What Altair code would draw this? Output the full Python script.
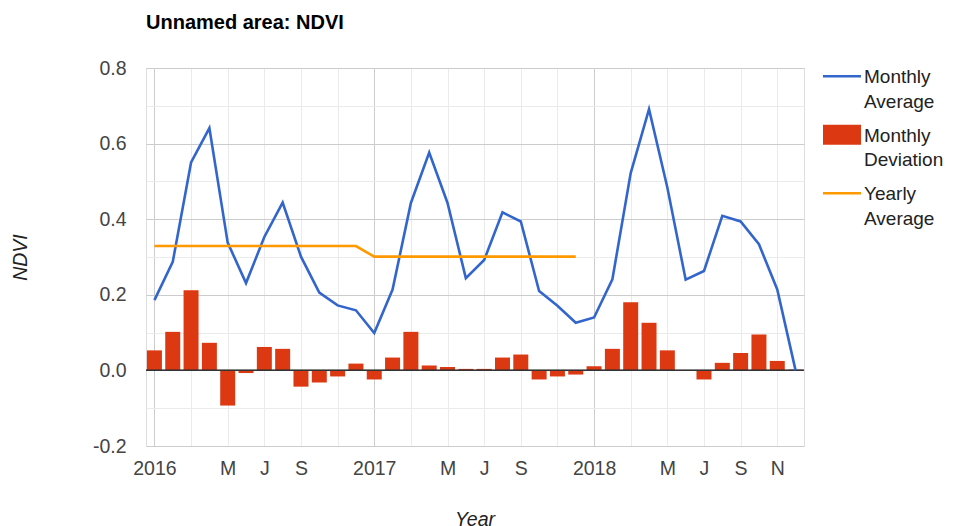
import altair as alt
import pandas as pd

# ---------------- data ----------------
months = ["2016-01", "2016-02", "2016-03", "2016-04", "2016-05", "2016-06",
          "2016-07", "2016-08", "2016-09", "2016-10", "2016-11", "2016-12",
          "2017-01", "2017-02", "2017-03", "2017-04", "2017-05", "2017-06",
          "2017-07", "2017-08", "2017-09", "2017-10", "2017-11", "2017-12",
          "2018-01", "2018-02", "2018-03", "2018-04", "2018-05", "2018-06",
          "2018-07", "2018-08", "2018-09", "2018-10", "2018-11", "2018-12"]

monthly_avg = [0.186, 0.287, 0.550, 0.641, 0.338, 0.231, 0.353, 0.444, 0.301, 0.206, 0.172, 0.159,
               0.099, 0.214, 0.443, 0.576, 0.443, 0.244, 0.292, 0.418, 0.394, 0.210, 0.171, 0.126,
               0.140, 0.241, 0.522, 0.691, 0.484, 0.240, 0.263, 0.409, 0.394, 0.334, 0.214, 0.000]

monthly_dev = [0.053, 0.102, 0.212, 0.073, -0.093, -0.007, 0.062, 0.057, -0.043, -0.032, -0.016, 0.018,
               -0.024, 0.034, 0.102, 0.013, 0.009, 0.004, 0.004, 0.034, 0.042, -0.024, -0.016, -0.011,
               0.011, 0.057, 0.180, 0.126, 0.053, -0.001, -0.024, 0.020, 0.046, 0.095, 0.025, 0.002]

yearly_avg = [0.329, 0.329, 0.329, 0.329, 0.329, 0.329, 0.329, 0.329, 0.329, 0.329, 0.329, 0.329,
              0.301, 0.301, 0.301, 0.301, 0.301, 0.301, 0.301, 0.301, 0.301, 0.301, 0.301, 0.301,
              None, None, None, None, None, None, None, None, None, None, None, None]

series_names = ["Monthly Average", "Monthly Deviation", "Yearly Average"]
series_colors = ["#3366cc", "#dc3912", "#ff9900"]

# x tick positions (every 2 months) and their labels
x_tick_values = [0, 2, 4, 6, 8, 10, 12, 14, 16, 18, 20, 22, 24, 26, 28, 30, 32, 34]
x_tick_labels = ["2016", "", "M", "J", "S", "", "2017", "", "M", "J", "S", "",
                 "2018", "", "M", "J", "S", "N"]
y_tick_values = [-0.2, -0.1, 0.0, 0.1, 0.2, 0.3, 0.4, 0.5, 0.6, 0.7, 0.8]
y_tick_labels = ["-0.2", "", "0.0", "", "0.2", "", "0.4", "", "0.6", "", "0.8"]

# ---------------- tables ----------------
idx = [(int(m[:4]) - 2016) * 12 + int(m[5:]) - 1 for m in months]
df = pd.DataFrame({"m": idx, "month": months, "avg": monthly_avg,
                   "dev": monthly_dev, "yearly": yearly_avg})
legend_df = pd.DataFrame({"series": series_names})

FONT = "Liberation Sans, Arial, sans-serif"
FS = 19.5

x_scale = alt.Scale(domain=[-0.46, 35.46], nice=False, zero=False, padding=0)
y_scale = alt.Scale(domain=[-0.2, 0.8], nice=False, padding=0)

x_lab_expr = "[" + ",".join("'%s'" % s for s in x_tick_labels) + "][round(datum.value / 2)]"
y_lab_expr = "[" + ",".join("'%s'" % s for s in y_tick_labels) + "][round(datum.value * 10) + 2]"

x_axis = alt.Axis(
    values=x_tick_values, tickCount=100, labelExpr=x_lab_expr, labelOverlap=False, labelFlush=False,
    labelBound=False, domain=False, ticks=False, tickSize=0, labelPadding=13,
    labelFontSize=FS, labelFont=FONT, labelColor="#444444",
    gridColor=alt.condition("datum.value % 12 === 0", alt.value("#cccccc"), alt.value("#ebebeb")),
    gridWidth=1,
    title="Year", titleFont=FONT, titleFontSize=FS, titleFontStyle="italic",
    titleFontWeight="normal", titleColor="#222222", titleX=328.5, titleY=79,
    titleBaseline="alphabetic", titleAlign="center",
)
y_axis = alt.Axis(
    values=y_tick_values, tickCount=100, labelExpr=y_lab_expr, labelOverlap=False, labelFlush=False,
    labelBound=False, domain=False, ticks=False, tickSize=0, labelPadding=20,
    labelFontSize=FS, labelFont=FONT, labelColor="#444444", labelAlign="right",
    labelBaseline="middle",
    gridColor=alt.condition("round(datum.value * 10) % 2 === 0", alt.value("#cccccc"), alt.value("#ebebeb")),
    gridWidth=1,
    title="NDVI", titleFont=FONT, titleFontSize=FS, titleFontStyle="italic",
    titleFontWeight="normal", titleColor="#222222", titleX=-126, titleY=189,
    titleBaseline="middle", titleAlign="center", titleAngle=270,
)

X = alt.X("m:Q", scale=x_scale, axis=x_axis)

bars = alt.Chart(df).mark_bar(size=15, color=series_colors[1]).encode(
    x=X, y=alt.Y("dev:Q", scale=y_scale, axis=y_axis),
)

zero = alt.Chart(legend_df).mark_rule(color="#333333", strokeWidth=1.3).encode(
    y=alt.datum(0)
)

line_avg = alt.Chart(df).mark_line(strokeWidth=2.6, color=series_colors[0]).encode(
    x=X, y=alt.Y("avg:Q", scale=y_scale, axis=y_axis), order="m:Q",
)
line_year = alt.Chart(df).mark_line(strokeWidth=2.6, color=series_colors[2]).encode(
    x=X, y=alt.Y("yearly:Q", scale=y_scale, axis=y_axis), order="m:Q",
)

color_scale = alt.Scale(domain=series_names, range=series_colors)
# legend glyphs: thin bars for the lines, a rectangle for the columns
shape_scale = alt.Scale(domain=series_names, range=[
    "M-1,-0.424H1V-0.292H-1Z",
    "M-1,-0.884H1V0.168H-1Z",
    "M-1,-0.424H1V-0.292H-1Z",
])
leg = alt.Legend(
    orient="none", legendX=677, legendY=-4, direction="vertical", title=None, padding=0,
    labelFont=FONT, labelFontSize=19, labelColor="#222222", labelBaseline="alphabetic",
    labelOffset=3, labelLimit=300,
    rowPadding=10.5, symbolSize=1444, symbolStrokeWidth=0, symbolOpacity=1,
)
# helper layer that only carries the legend (its points have zero size)
legend_layer = alt.Chart(legend_df).mark_point(filled=True, size=0).encode(
    color=alt.Color("series:N", scale=color_scale, legend=leg),
    shape=alt.Shape("series:N", scale=shape_scale, legend=leg),
)

chart = alt.layer(bars, zero, line_avg, line_year, legend_layer).properties(
    width=658, height=378,
    padding={"left": 138, "top": 60, "right": 141, "bottom": 82},
    autosize=alt.AutoSizeParams(type="none"),
    title=alt.TitleParams("Unnamed area: NDVI", anchor="start", frame="group", font=FONT,
                          fontSize=20, fontWeight="bold", color="#000000",
                          baseline="alphabetic", offset=9.5),
).configure_view(stroke=None).configure(
    style={"guide-label": {"lineHeight": 24.6, "lineBreak": " "}}
)

chart.save("out.html", embed_options={"renderer": "svg", "actions": False})
